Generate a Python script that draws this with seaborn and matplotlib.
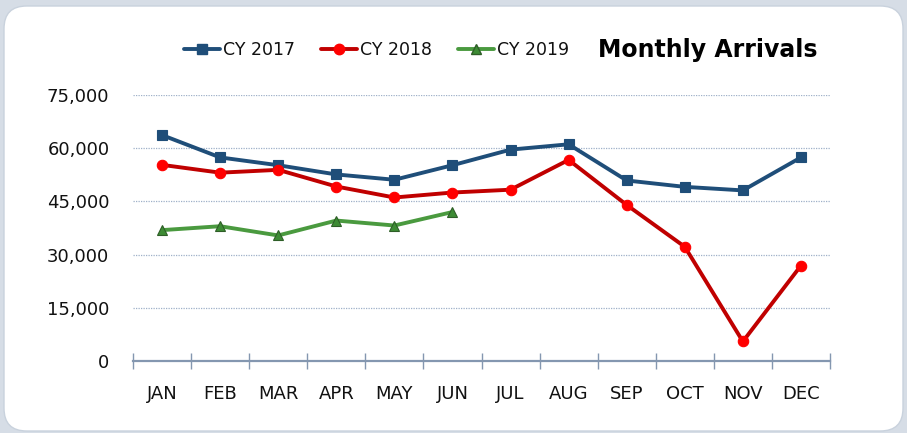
import matplotlib
matplotlib.use("Agg")
import matplotlib.pyplot as plt
from matplotlib.patches import FancyBboxPatch
from matplotlib.lines import Line2D
from matplotlib.ticker import FuncFormatter
import seaborn as sns
import pandas as pd
import numpy as np

months = ["JAN", "FEB", "MAR", "APR", "MAY", "JUN", "JUL", "AUG", "SEP", "OCT", "NOV", "DEC"]
cy2017 = [63700, 57400, 55200, 52600, 51100, 55200, 59600, 61100, 50900, 49100, 48100, 57400]
cy2018 = [55300, 53100, 53900, 49200, 46100, 47500, 48300, 56700, 44000, 32200, 5500, 26900]
cy2019 = [36900, 38000, 35400, 39600, 38200, 42000]
series_names = ["CY 2017", "CY 2018", "CY 2019"]
y_ticks = [0, 15000, 30000, 45000, 60000, 75000]
title = "Monthly Arrivals"

sns.set_theme(style="white")
plt.rcParams['font.family'] = ['DejaVu Sans']

W, H = 907, 433
fig = plt.figure(figsize=(W / 100, H / 100), dpi=100)
fig.patch.set_facecolor("#D6DDE6")

# white rounded panel
panel = FancyBboxPatch((4 / W, 2 / H), 899 / W, 425 / H,
                       boxstyle="round,pad=0,rounding_size=0.025",
                       transform=fig.transFigure, facecolor="white",
                       edgecolor="#C9D2DD", linewidth=1.0, zorder=-5,
                       mutation_aspect=W / H)
fig.patches.append(panel)

ax = fig.add_axes([133 / W, 1 - 361 / H, (830 - 133) / W, (361 - 95) / H])
ax.set_zorder(2)
ax.set_facecolor("none")

df = pd.DataFrame({
    "x": list(range(12)) * 2 + list(range(len(cy2019))),
    "value": cy2017 + cy2018 + cy2019,
    "series": [series_names[0]] * 12 + [series_names[1]] * 12 + [series_names[2]] * len(cy2019),
})

styles = {
    "CY 2017": dict(color="#1F4E79", marker="s", mfc="#1F4E79", mec="#1F4E79", ms=7.5),
    "CY 2018": dict(color="#C00000", marker="o", mfc="#FF0000", mec="#FF0000", ms=7.5),
    "CY 2019": dict(color="#4A9A3F", marker="^", mfc="#3D8B34", mec="#2E5E27", ms=7.5),
}
for name in series_names:
    st = styles[name]
    sns.lineplot(data=df[df.series == name], x="x", y="value", ax=ax,
                 color=st["color"], marker=st["marker"], markersize=st["ms"],
                 markerfacecolor=st["mfc"], markeredgecolor=st["mec"],
                 markeredgewidth=0.8, linewidth=2.8, legend=False, sort=False,
                 zorder=3)

ax.set_xlim(-0.5, 11.5)
ax.set_ylim(0, 75000)
ax.set_xlabel("")
ax.set_ylabel("")

ax.set_yticks(y_ticks)
ax.yaxis.set_major_formatter(FuncFormatter(lambda v, p: f"{int(v):,}"))
ax.tick_params(axis="y", length=0, pad=17, labelsize=13, labelcolor="#111111")
for v in y_ticks[1:]:
    ax.axhline(v, color="#9FB0C8", linewidth=0.9, linestyle=(0, (1, 1)), zorder=1)

ax.set_xticks(range(12))
ax.set_xticklabels(months)
ax.set_xticks(np.arange(-0.5, 12, 1), minor=True)
ax.tick_params(axis="x", which="major", bottom=True, length=0, pad=17, labelsize=13,
               labelcolor="#111111")
ax.tick_params(axis="x", which="minor", bottom=True, direction="inout", length=12,
               width=1.0, color="#8497B0")

for s in ["top", "right", "left"]:
    ax.spines[s].set_visible(False)
ax.spines["bottom"].set_color("#8497B0")
ax.spines["bottom"].set_linewidth(1.6)
ax.grid(False)

handles = []
for name in series_names:
    st = styles[name]
    handles.append(Line2D([], [], color=st["color"], marker=st["marker"], markersize=st["ms"],
                          markerfacecolor=st["mfc"], markeredgecolor=st["mec"], linewidth=2.8))
fig.legend(handles, series_names, loc="center left", bbox_to_anchor=(168 / W, 1 - 50 / H),
           ncol=3, frameon=False, handlelength=2.1, handletextpad=0.15, columnspacing=1.5,
           prop={"size": 12.5}, labelcolor="#111111")

fig.text(598 / W, 1 - 50 / H, title, ha="left", va="center", fontsize=17, fontweight="bold",
         color="#000000")

fig.savefig("out.png", dpi=100, facecolor=fig.get_facecolor())
